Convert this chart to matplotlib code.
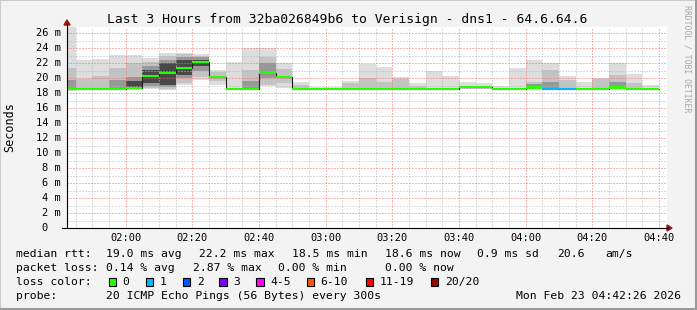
import matplotlib
matplotlib.use("Agg")
import matplotlib.pyplot as plt
import matplotlib.patches as patches
from matplotlib.lines import Line2D
import numpy as np

W, H = 697, 310
MONO = "DejaVu Sans Mono"

# 5 minute slots, start time in minutes after midnight
slot_start = np.arange(100, 280, 5)

# median rtt per slot (ms)
median = [18.6, 18.6, 18.6, 18.6, 18.7, 20.3, 20.7, 21.4, 22.2, 20.2,
          18.6, 18.6, 20.75, 20.2, 18.6, 18.55, 18.55, 18.6, 18.6, 18.6,
          18.6, 18.55, 18.6, 18.6, 18.8, 18.8, 18.6, 18.6, 18.75, 18.6,
          18.6, 18.6, 18.6, 18.75, 18.6, 18.6]
# lost pings per slot (of 20)
loss = [0] * 29 + [1, 1] + [0] * 5

nan = np.nan
# smoke bands: outer (min..max) and inner, darker bands
smoke_lo = [18.3, 18.5, 18.5, 18.5, 18.4, 18.5, 18.4, 19.1, 19.8, 19.1,
            18.5, 18.5, 18.9, 18.7, 18.5, 18.5, 18.5, 18.5, 18.5, 18.5,
            18.5, 18.5, 18.5, 18.5, 18.5, 18.5, 18.5, 18.5, 18.5, 18.5,
            18.5, 18.5, 18.5, 18.5, 18.5, 18.5]
smoke_hi = [26.9, 22.4, 22.6, 23.1, 23.1, 22.7, 23.4, 23.4, 23.3, 21.1,
            22.1, 24.0, 24.0, 22.0, 19.55, 18.8, 18.8, 19.6, 21.9, 21.5,
            20.1, 19.3, 20.9, 20.3, 19.55, 19.3, 18.9, 21.3, 22.5, 22.0,
            20.3, 19.55, 20.0, 22.0, 20.5, 19.1]
band2_lo = [18.5, 18.5, 18.5, 18.5, 18.5, 18.7, 18.5, 19.3, 20.2, 19.6,
            nan, 18.6, 19.1, 19.3, 18.5, nan, nan, 18.5, 18.5, 18.5,
            18.5, 18.5, nan, nan, 18.6, 18.6, nan, nan, 18.6, 18.5,
            18.5, nan, 18.5, 18.6, 18.5, nan]
band2_hi = [21.3, 19.9, 20.3, 21.3, 22.0, 22.2, 23.0, 23.2, 23.0, 20.8,
            nan, 21.1, 22.9, 21.2, 19.1, nan, nan, 19.3, 20.0, 19.55,
            19.9, 19.0, nan, nan, 19.0, 19.0, nan, nan, 19.55, 21.1,
            19.8, nan, 19.9, 20.4, 19.4, nan]
band3_lo = [18.6, nan, nan, 18.6, 18.6, 19.0, 18.8, 20.0, 20.9, nan,
            nan, 18.7, 20.0, nan, nan, nan, nan, nan, nan, nan,
            nan, nan, nan, nan, nan, nan, nan, nan, 18.7, 18.6,
            nan, nan, nan, 18.7, nan, nan]
band3_hi = [19.8, nan, nan, 19.7, 20.2, 21.6, 22.4, 22.8, 22.8, nan,
            nan, 19.6, 22.0, nan, nan, nan, nan, nan, nan, nan,
            nan, nan, nan, nan, nan, nan, nan, nan, 19.2, 19.55,
            nan, nan, nan, 19.55, nan, nan]
band4_lo = [nan, nan, nan, nan, 18.7, 19.3, 19.1, 20.4, 21.6] + [nan] * 27
band4_hi = [nan, nan, nan, nan, 19.6, 21.1, 22.0, 22.4, 22.5] + [nan] * 27

loss_labels = ["0", "1", "2", "3", "4-5", "6-10", "11-19", "20/20"]
loss_colors = ["#26ff00", "#00b8ff", "#0059ff", "#7e00ff", "#ff00ff",
               "#ff5500", "#ff0000", "#a10000"]

x_ticks = list(range(120, 281, 20))
x_ticklabels = ["02:00", "02:20", "02:40", "03:00", "03:20", "03:40",
                "04:00", "04:20", "04:40"]
y_ticks = list(range(0, 27, 2))

legend_rows = [
    [(16, "median rtt:"), (106, "19.0 ms avg"), (199, "22.2 ms max"),
     (292, "18.5 ms min"), (385, "18.6 ms now"), (477, "0.9 ms sd"),
     (557, "20.6"), (605, "am/s")],
    [(16, "packet loss:"), (106, "0.14 % avg"), (193, "2.87 % max"),
     (278, "0.00 % min"), (385, "0.00 % now")],
]
probe_text = "20 ICMP Echo Pings (56 Bytes) every 300s"
stamp = "Mon Feb 23 04:42:26 2026"


def fx(px):
    return px / W


def fy(py):
    return 1 - py / H


fig = plt.figure(figsize=(W / 100, H / 100), dpi=100, facecolor="#f3f3f3")
ax = fig.add_axes([fx(67), fy(228), fx(667) - fx(67), fy(27) - fy(228)])
ax.set_facecolor("white")
ax.set_xlim(102.43, 282.43)
ax.set_ylim(0, 26.84)
for s in ax.spines.values():
    s.set_visible(False)
ax.set_xticks([])
ax.set_yticks([])

# smoke
bands = [(smoke_lo, smoke_hi, "#dddddd"), (band2_lo, band2_hi, "#c3c3c3"),
         (band3_lo, band3_hi, "#989898"), (band4_lo, band4_hi, "#484848")]
for lo, hi, col in bands:
    lo = np.array(lo)
    hi = np.array(hi)
    ax.bar(slot_start, hi - lo, bottom=lo, width=5, align="edge",
           color=col, linewidth=0, zorder=1)

# grid (dotted)
grid_kw = dict(lw=0.72, dashes=(1, 2), zorder=2)
for m in range(105, 285, 5):
    if m % 20:
        ax.axvline(m, color="#b8b8b8", **grid_kw)
for v in range(1, 27, 2):
    ax.axhline(v, color="#b8b8b8", **grid_kw)
for m in x_ticks:
    ax.axvline(m, color="#f07070", **grid_kw)
for v in y_ticks[1:]:
    ax.axhline(v, color="#f07070", **grid_kw)

# median line with loss colour
edges = np.append(slot_start, slot_start[-1] + 5)
ax.stairs(median, edges, baseline=None, color="#202020", lw=0.8, zorder=3)
med = np.array(median)
ax.bar(slot_start, 0.32, bottom=med - 0.16, width=5, align="edge",
       color=[loss_colors[l] for l in loss], linewidth=0, zorder=4)

# tick labels
for m, lab in zip(x_ticks, x_ticklabels):
    ax.annotate(lab, xy=(m, 0), xycoords=("data", "axes fraction"),
                xytext=(0, -10), textcoords="offset pixels", ha="center",
                va="center", family=MONO, fontsize=7.5)
for v in y_ticks:
    lab = "%d m" % v if v else "0"
    off = -6 if v else -19
    ax.annotate(lab, xy=(0, v), xycoords=("axes fraction", "data"),
                xytext=(off, 0), textcoords="offset pixels", ha="right",
                va="center", family=MONO, fontsize=7.5)

# axes with arrows
fig.add_artist(Line2D([fx(67), fx(67)], [fy(228), fy(24)], color="black", lw=0.8))
fig.add_artist(Line2D([fx(62), fx(668)], [fy(228), fy(228)], color="black", lw=0.8))
fig.add_artist(patches.Polygon([[fx(64), fy(25)], [fx(70), fy(25)], [fx(67), fy(20)]],
                               closed=True, color="#a01010", transform=fig.transFigure))
fig.add_artist(patches.Polygon([[fx(667), fy(225)], [fx(667), fy(231)], [fx(672), fy(228)]],
                               closed=True, color="#a01010", transform=fig.transFigure))

# titles
fig.text(fx(347.5), fy(19), "Last 3 Hours from 32ba026849b6 to Verisign - dns1 - 64.6.64.6",
         ha="center", va="center", family=MONO, fontsize=9.4)
fig.text(fx(10), fy(127), "Seconds", rotation=90, ha="center", va="center",
         family=MONO, fontsize=8.5)
fig.text(fx(687), fy(5), "RRDTOOL / TOBI OETIKER", rotation=270, ha="center",
         va="top", family=MONO, fontsize=5.9, color="#a8a8a8")

# legend
row_y = [254.3, 267.7, 282.3, 296]
for yy, row in zip(row_y, legend_rows):
    for xx, txt in row:
        fig.text(fx(xx), fy(yy), txt, ha="left", va="center", family=MONO, fontsize=8.2)
fig.text(fx(16), fy(row_y[2]), "loss color:", ha="left", va="center", family=MONO, fontsize=8.2)
box_x = [108.7, 145.7, 182.7, 219.3, 256, 306.7, 365.7, 430.7]
for bx, lab, col in zip(box_x, loss_labels, loss_colors):
    fig.add_artist(patches.Rectangle((fx(bx), fy(285.7)), fx(7.5), 7.5 / H,
                                     facecolor=col, edgecolor="black", lw=0.8,
                                     transform=fig.transFigure))
    fig.text(fx(bx + 14), fy(row_y[2]), lab, ha="left", va="center", family=MONO, fontsize=8.2)
fig.text(fx(16), fy(row_y[3]), "probe:", ha="left", va="center", family=MONO, fontsize=8.2)
fig.text(fx(106), fy(row_y[3]), probe_text, ha="left", va="center", family=MONO, fontsize=8.2)
fig.text(fx(681), fy(row_y[3]), stamp, ha="right", va="center", family=MONO, fontsize=8.2)

# frame
fig.add_artist(Line2D([0, 0, 1], [0, 1, 1], color="#cbcbcb", lw=1.5, transform=fig.transFigure))
fig.add_artist(Line2D([0, 1, 1], [fy(309), fy(309), 1], color="#9a9a9a", lw=2.2,
                      transform=fig.transFigure))
fig.add_artist(Line2D([fx(695.5), fx(695.5)], [0, 1], color="#9a9a9a", lw=2.2,
                      transform=fig.transFigure))

fig.savefig("out.png", dpi=100, facecolor=fig.get_facecolor())
